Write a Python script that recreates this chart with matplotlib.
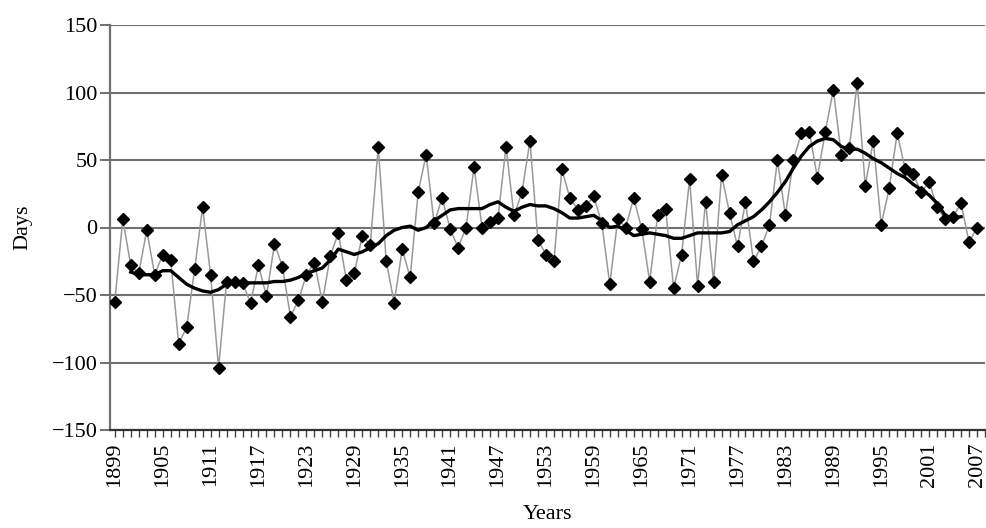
import numpy as np
import matplotlib.pyplot as plt
from matplotlib.ticker import MultipleLocator

# yearly values
years = np.arange(1899, 2008)
days = [-55, 6, -28, -34, -2, -35, -20, -24, -86, -74,
        -31, 15, -35, -104, -40, -40, -41, -56, -28, -51,
        -12, -29, -66, -54, -35, -26, -55, -21, -4, -39,
        -34, -6, -13, 60, -25, -56, -16, -37, 26, 54,
        3, 22, -1, -15, 0, 45, 0, 4, 7, 60,
        9, 26, 64, -9, -20, -25, 43, 22, 13, 16,
        23, 3, -42, 6, 0, 22, -1, -40, 9, 14,
        -45, -20, 36, -43, 19, -40, 39, 11, -14, 19,
        -25, -14, 2, 50, 9, 50, 70, 71, 37, 71,
        102, 54, 59, 107, 31, 64, 2, 29, 70, 43,
        40, 26, 34, 15, 6, 8, 18, -11, 0]

# smoothed curve, 1901-2005
trend_years = np.arange(1901, 2006)
trend = [-33, -35, -35, -35, -32, -32, -37, -42, -45, -47,
         -48, -46, -42, -41, -41, -41, -41, -41, -40, -40,
         -39, -37, -34, -32, -30, -24, -16, -18, -20, -18,
         -15, -12, -6, -2, 0, 1, -2, 0, 5, 9,
         13, 14, 14, 14, 14, 17, 19, 15, 12, 15,
         17, 16, 16, 14, 11, 7, 7, 8, 9, 5,
         0, 1, -2, -6, -5, -4, -5, -6, -8, -8,
         -6, -4, -4, -4, -4, -3, 2, 5, 8, 13,
         19, 26, 34, 44, 53, 60, 64, 66, 65, 60,
         58, 58, 55, 51, 48, 44, 40, 37, 32, 28,
         24, 18, 9, 7, 8]

label_years = np.arange(1899, 2008, 6)

plt.rcParams['font.family'] = ['Liberation Serif', 'DejaVu Serif']

fig = plt.figure(figsize=(9.87, 5.28), dpi=100)
ax = fig.add_axes([110 / 987, 98 / 528, 875 / 987, 405 / 528])

for v in range(-100, 151, 50):
    ax.axhline(v, color='#707070', lw=1.5, zorder=1)

ax.plot(years, days, color='#999999', lw=1.1, zorder=2)
ax.plot(years, days, 'D', color='black', ms=6, zorder=3)
ax.plot(trend_years, trend, color='black', lw=2.4, zorder=4)

ax.set_xlim(1898.4, 2008.0)
ax.set_ylim(-150, 150)
ax.set_yticks(range(-150, 151, 50))
ax.set_yticklabels(['\u2212150', '\u2212100', '\u221250', '0', '50', '100', '150'])
ax.set_xticks(label_years)
ax.set_xticklabels([str(y) for y in label_years], rotation=90)
ax.xaxis.set_minor_locator(MultipleLocator(1))
ax.tick_params(axis='x', which='both', length=5, width=1, color='#444444',
               labelsize=16, pad=4)
ax.tick_params(axis='y', length=7, width=1.4, color='#707070', labelsize=16, pad=2)

for s in ['top', 'right']:
    ax.spines[s].set_visible(False)
ax.spines['left'].set_color('#707070')
ax.spines['left'].set_linewidth(1.6)
ax.spines['bottom'].set_color('#333333')
ax.spines['bottom'].set_linewidth(1.6)

ax.set_xlabel('Years', fontsize=16, labelpad=13)
ax.set_ylabel('Days', fontsize=16, labelpad=14)

fig.savefig('out.png', dpi=100)
